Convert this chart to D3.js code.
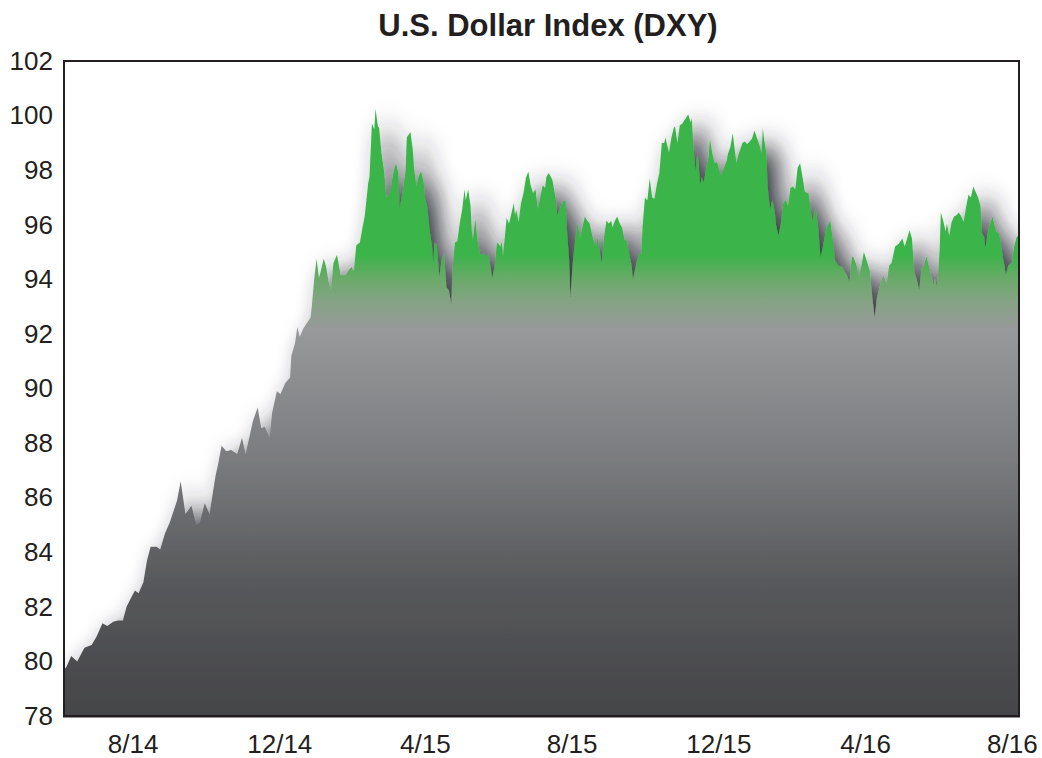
<!DOCTYPE html>
<html>
<head>
<meta charset="utf-8">
<script src="https://cdn.jsdelivr.net/npm/d3@7"></script>
<style>
  body { margin: 0; background: #fff; }
  text { font-family: "Liberation Sans", Arial, sans-serif; fill: #231f20; }
</style>
</head>
<body>
<div id="chart"></div>
<script>
// DXY readings (month-day per year)
var days2014 = [
  "06-05","06-07","06-11","06-16","06-22","06-28",
  "07-02","07-07","07-11","07-16","07-20","07-24","07-27","07-31",
  "08-03","08-06","08-10","08-13","08-16","08-21","08-24","08-28",
  "09-01","09-07","09-10","09-14","09-19","09-23","09-26","09-30",
  "10-04","10-09","10-11","10-14","10-18","10-22","10-27","10-31",
  "11-03","11-06","11-09","11-13","11-16","11-19","11-23","11-25","11-29",
  "12-02","12-06","12-10","12-11","12-14","12-16","12-18","12-21","12-24","12-27","12-28","12-30"
];
var dxy2014 = [
  79.7,79.8,80.2,80.0,80.5,80.6,
  80.9,81.4,81.3,81.45,81.5,81.5,82.0,82.35,
  82.6,82.5,82.9,83.7,84.2,84.2,84.1,84.7,
  85.1,85.9,86.6,85.4,85.7,85.0,85.1,85.8,
  85.4,86.8,87.2,87.9,87.7,87.75,87.6,88.2,
  87.6,88.2,88.8,89.3,88.55,88.6,88.2,89.1,89.9,
  89.8,90.2,90.4,91.2,91.65,92.25,91.9,92.2,92.4,92.6,93.0,94.0
];

var days2015 = [
  "01-01","01-03","01-07","01-09","01-11","01-13","01-15","01-18","01-21","01-25","01-28","01-30",
  "02-01","02-03","02-06","02-08","02-10","02-13","02-14","02-16","02-18","02-19","02-21","02-22","02-24","02-26","02-28",
  "03-02","03-04","03-06","03-08","03-10","03-11","03-14","03-16","03-17","03-20","03-22","03-23","03-25","03-27","03-29","03-31",
  "04-01","04-03","04-05","04-07","04-08","04-09","04-11","04-13","04-15","04-17","04-19","04-21","04-23","04-24","04-26","04-28","04-30",
  "05-02","05-04","05-05","05-07","05-09","05-10","05-11","05-13","05-15","05-17","05-20","05-22","05-24","05-27","05-29","05-31",
  "06-03","06-04","06-05","06-08","06-10","06-14","06-15","06-16","06-18","06-20","06-22","06-24","06-26","06-28","06-30",
  "07-02","07-04","07-06","07-08","07-10","07-11","07-13","07-16","07-17","07-19","07-20","07-22","07-25","07-27","07-28","07-30","07-31",
  "08-02","08-04","08-06","08-08","08-10","08-12","08-14","08-16","08-19","08-21","08-23","08-24","08-26","08-28","08-30",
  "09-01","09-03","09-04","09-06","09-08","09-10","09-12","09-14","09-16","09-18","09-20","09-21","09-24","09-26","09-28","09-29",
  "10-01","10-03","10-05","10-07","10-09","10-11","10-13","10-15","10-17","10-18","10-21","10-23","10-25","10-26","10-28","10-30",
  "11-01","11-03","11-04","11-06","11-08","11-09","11-10","11-12","11-13","11-14","11-16","11-17","11-19","11-21","11-23","11-24","11-26","11-28","11-30",
  "12-03","12-05","12-08","12-09","12-11","12-13","12-14","12-16","12-18","12-20","12-21","12-23","12-25","12-27","12-29","12-31"
];
var dxy2015 = [
  94.75,94.05,94.75,94.45,93.9,93.6,94.6,94.9,94.15,94.15,94.35,94.45,
  94.3,95.25,95.35,95.85,96.3,97.55,97.75,99.7,99.5,100.25,99.6,99.55,98.6,98.0,97.0,
  97.1,97.4,97.95,98.25,97.9,96.6,97.3,98.0,99.2,99.4,98.75,98.1,97.4,97.8,97.95,97.55,
  97.0,96.65,95.8,95.2,94.6,95.35,95.25,94.1,94.7,94.95,93.7,93.6,93.1,94.35,95.35,95.4,96.05,
  96.55,97.3,96.9,97.3,96.7,95.8,95.45,96.2,95.35,94.9,94.95,94.85,94.9,94.05,94.45,95.35,
  95.2,95.4,94.85,96.25,96.05,96.8,96.35,96.55,96.1,96.8,97.15,97.7,97.95,97.45,97.15,
  97.3,96.55,97.0,97.45,97.35,97.75,97.9,97.65,97.4,96.9,96.35,96.55,96.85,96.9,95.9,94.7,93.35,
  94.6,95.45,96.05,95.5,95.9,96.3,96.15,96.05,95.45,95.2,95.55,95.1,94.6,95.55,96.15,
  96.05,96.15,95.9,96.15,96.3,96.05,95.9,95.45,95.4,94.9,94.5,94.0,94.6,94.9,94.95,95.9,
  97.0,96.9,97.7,97.0,96.95,97.5,97.9,99.0,99.0,99.2,98.65,99.2,99.55,99.6,99.0,99.65,
  99.7,99.85,99.9,100.05,99.75,99.9,99.0,97.95,98.45,98.55,97.45,97.75,97.55,98.1,98.5,99.15,98.6,98.25,98.3,
  97.8,98.0,98.35,98.6,98.85,99.35,99.0,98.25,98.6,98.85,99.0,99.05,98.95,99.05,99.15,99.45
];

var days2016 = [
  "01-02","01-04","01-06","01-07","01-08","01-10","01-11","01-13","01-15","01-17","01-18","01-20","01-22","01-24","01-26","01-28","01-30",
  "02-01","02-03","02-05","02-07","02-09","02-11","02-14","02-17","02-18","02-20","02-22","02-24","02-26","02-29",
  "03-03","03-05","03-07","03-10","03-13","03-17","03-19","03-21","03-22","03-25","03-27","03-29","03-31",
  "04-03","04-05","04-07","04-09","04-11","04-14","04-16","04-19","04-21","04-23","04-26","04-29",
  "05-02","05-04","05-06","05-08","05-10","05-12","05-14","05-16","05-18","05-20","05-22","05-24","05-26","05-28","05-29","05-31",
  "06-02","06-03","06-05","06-07","06-08","06-10","06-12","06-14","06-16","06-18","06-20","06-22","06-24","06-26","06-28","06-30",
  "07-02","07-04","07-06","07-07","07-09","07-10","07-12","07-14","07-16","07-18","07-19","07-21","07-22","07-25","07-26","07-27","07-29",
  "08-01","08-03","08-05","08-07"
];
var dxy2016 = [
  99.2,98.95,98.6,99.55,99.15,98.6,97.4,96.55,96.9,96.45,96.0,95.6,96.05,96.8,96.9,96.7,97.35,
  97.4,97.3,98.1,98.25,97.75,97.2,97.15,96.1,96.3,96.6,95.9,94.8,95.2,95.9,
  96.15,95.5,94.7,94.5,94.45,94.15,93.9,94.8,94.85,94.5,94.05,94.5,95.0,
  94.6,94.3,93.35,92.6,93.35,93.85,94.15,93.85,94.5,94.6,95.2,95.3,
  95.5,95.2,95.5,95.8,95.5,94.25,94.0,93.6,94.4,94.5,94.85,94.5,94.1,93.8,94.0,93.7,
  95.05,96.45,96.15,95.75,96.05,95.6,96.1,96.3,96.35,96.45,96.3,96.1,96.65,97.1,97.0,97.4,
  97.2,97.0,96.7,95.7,95.55,95.15,95.7,96.05,96.3,95.9,95.75,95.7,95.55,94.7,94.5,94.15,94.5,
  94.6,95.2,95.55,95.6
];

var yTicks = [78, 80, 82, 84, 86, 88, 90, 92, 94, 96, 98, 100, 102];
var xTickDates = ["2014-08-01", "2014-12-01", "2015-04-01", "2015-08-01", "2015-12-01", "2016-04-01", "2016-08-01"];
var xTickLabels = ["8/14", "12/14", "4/15", "8/15", "12/15", "4/16", "8/16"];

var W = 1042, H = 758;
var margin = { top: 61, right: 23, bottom: 42, left: 64 },
  width = W - margin.left - margin.right,
  height = H - margin.top - margin.bottom;

var parseDate = d3.timeParse("%Y-%m-%d");

function joinYear(year, days, vals) {
  return days.map(function (d, i) {
    return { date: parseDate(year + "-" + d), value: vals[i] };
  });
}

var data = []
  .concat(joinYear(2014, days2014, dxy2014))
  .concat(joinYear(2015, days2015, dxy2015))
  .concat(joinYear(2016, days2016, dxy2016));

var svg = d3
  .select("#chart")
  .append("svg")
  .attr("width", W)
  .attr("height", H);

var defs = svg.append("defs");

// gradient: green top band fading to light gray, then darker toward the base
var grad = defs
  .append("linearGradient")
  .attr("id", "fillGrad")
  .attr("gradientUnits", "userSpaceOnUse")
  .attr("x1", 0).attr("x2", 0)
  .attr("y1", 0).attr("y2", height);
[
  [0, "#3bb44a"],
  [194, "#3bb44a"],
  [218, "#6aaa69"],
  [240, "#84a384"],
  [268, "#98999b"],
  [400, "#7a7b7e"],
  [520, "#58595c"],
  [655, "#444548"]
].forEach(function (s) {
  grad.append("stop")
    .attr("offset", s[0] / height)
    .attr("stop-color", s[1]);
});

// soft drop shadow behind the area
var shadow = defs
  .append("filter")
  .attr("id", "shadow")
  .attr("x", "-10%").attr("y", "-10%")
  .attr("width", "120%").attr("height", "120%");
shadow.append("feGaussianBlur")
  .attr("in", "SourceAlpha")
  .attr("stdDeviation", 12)
  .attr("result", "blur");
shadow.append("feOffset")
  .attr("in", "blur")
  .attr("dx", 12).attr("dy", 7)
  .attr("result", "off");
shadow.append("feFlood")
  .attr("flood-color", "#2a2a36")
  .attr("flood-opacity", 0.95);
shadow.append("feComposite")
  .attr("in2", "off")
  .attr("operator", "in")
  .attr("result", "sh");
var merge = shadow.append("feMerge");
merge.append("feMergeNode").attr("in", "sh");
merge.append("feMergeNode").attr("in", "SourceGraphic");

defs.append("clipPath")
  .attr("id", "plotClip")
  .append("rect")
  .attr("width", width)
  .attr("height", height);

var g = svg
  .append("g")
  .attr("transform", "translate(" + margin.left + "," + margin.top + ")");

var x = d3
  .scaleTime()
  .domain([parseDate("2014-06-05"), parseDate("2016-08-07")])
  .range([0, width]);

var y = d3
  .scaleLinear()
  .domain([78, 102])
  .range([height, 0]);

var area = d3
  .area()
  .x(function (d) { return x(d.date); })
  .y0(y(78))
  .y1(function (d) { return y(d.value); });

g.append("g")
  .attr("clip-path", "url(#plotClip)")
  .append("path")
  .datum(data)
  .attr("d", area)
  .attr("fill", "url(#fillGrad)")
  .attr("filter", "url(#shadow)");

// frame
g.append("rect")
  .attr("width", width)
  .attr("height", height)
  .attr("fill", "none")
  .attr("stroke", "#231f20")
  .attr("stroke-width", 2);
g.append("line")
  .attr("x1", -1).attr("x2", width + 1)
  .attr("y1", height + 0.5).attr("y2", height + 0.5)
  .attr("stroke", "#231f20")
  .attr("stroke-width", 2);

// Y axis labels
var yAxis = g.append("g")
  .call(d3.axisLeft(y).tickValues(yTicks).tickSize(0).tickPadding(11));
yAxis.select(".domain").remove();
yAxis.selectAll("text")
  .attr("font-size", "26px")
  .attr("font-family", "Liberation Sans, Arial, sans-serif")
  .attr("fill", "#231f20");

// X axis labels
var xAxis = g.append("g")
  .attr("transform", "translate(0," + height + ")")
  .call(
    d3.axisBottom(x)
      .tickValues(xTickDates.map(parseDate))
      .tickSize(0)
      .tickPadding(19)
      .tickFormat(function (d, i) { return xTickLabels[i]; })
  );
xAxis.select(".domain").remove();
xAxis.selectAll("text")
  .attr("font-size", "26px")
  .attr("font-family", "Liberation Sans, Arial, sans-serif")
  .attr("fill", "#231f20");

// title
svg.append("text")
  .attr("x", 548)
  .attr("y", 36)
  .attr("text-anchor", "middle")
  .attr("font-size", "31px")
  .attr("font-weight", "bold")
  .text("U.S. Dollar Index (DXY)");
</script>
</body>
</html>
